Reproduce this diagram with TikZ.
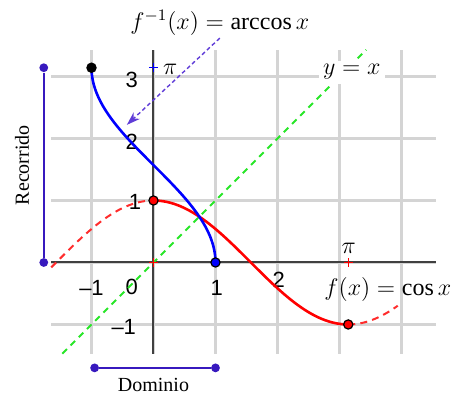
\documentclass[tikz,border=0pt]{standalone}
\usepackage{fontspec}
\setmainfont{Liberation Serif}
\setsansfont{Liberation Sans}
\usetikzlibrary{positioning,calc,arrows.meta}
\tikzset{>={Stealth[length=2.4mm,width=1.6mm]}}
\definecolor{verde}{RGB}{40,230,40}
\definecolor{lila}{RGB}{55,25,190}
\definecolor{flechalila}{RGB}{95,60,215}
\definecolor{rojoclaro}{RGB}{255,45,45}

\begin{document}
\begin{tikzpicture}[
    x=31pt, y=31pt,
    gridline/.style={draw=black!17, line width=1.2pt},
    axis/.style={draw=black!75, line width=1pt},
    tick/.style={font=\sffamily\fontsize{11}{11}\selectfont, inner sep=1pt},
    mathlbl/.style={font=\fontsize{12}{12}\selectfont, inner sep=1pt},
    word/.style={font=\fontsize{10}{10}\selectfont, inner sep=1pt},
    dot/.style={circle, draw=black, line width=0.6pt, inner sep=0pt, minimum size=4.6pt},
    limdot/.style={circle, fill=lila, inner sep=0pt, minimum size=4.4pt},
    cross/.style={line width=0.6pt}
]
\useasboundingbox (-2.476,-2.153) rectangle (4.815,4.234);

% grid and axes
\foreach \y in {-1,...,3}
    \draw[gridline] (-1.65,\y) -- (4.56,\y);
\foreach \x in {-1,...,4}
    \draw[gridline] (\x,-1.47) -- (\x,3.43);
\draw[axis] (-1.65,0) -- (4.56,0);
\draw[axis] (0,-1.47) -- (0,3.43);

% tick labels
\node[tick] (xm1) at (-1.0,-0.41) {–1};
\node[tick] (x0) at (-0.35,-0.40) {0};
\node[tick] (x1) at (1.02,-0.41) {1};
\node[tick] (x2) at (2.02,-0.28) {2};
\node[tick] (ym1) at (-0.48,-1.04) {–1};
\node[tick] (y1) at (-0.30,0.98) {1};
\node[tick] (y2) at (-0.35,1.94) {2};
\node[tick] (y3) at (-0.35,2.94) {3};

% y = x
\draw[verde, line width=1pt, dash pattern=on 3.2pt off 2.6pt] (-1.47,-1.47) -- (3.43,3.43);
\node[mathlbl, fill=white, inner sep=2pt] (idlbl) at (3.20,3.07) {$y=x$};

% f(x) = cos x
\draw[rojoclaro, line width=1pt, dash pattern=on 3.5pt off 2.6pt, domain=-1.65:0, samples=30, smooth]
    plot (\x,{cos(\x r)});
\draw[rojoclaro, line width=1pt, dash pattern=on 3.5pt off 2.6pt, domain=pi:3.94, samples=20, smooth]
    plot (\x,{cos(\x r)});
\draw[red, line width=1.3pt, domain=0:pi, samples=60, smooth]
    plot (\x,{cos(\x r)});
\draw[red, cross] (-0.07,0) -- (0.07,0) (0,-0.07) -- (0,0.07);
\draw[red, cross] (pi-0.07,0) -- (pi+0.07,0) (pi,-0.07) -- (pi,0.07);
\node[mathlbl] (pix) at (3.15,0.23) {$\pi$};
\node[mathlbl] (coslbl) at (3.78,-0.44) {$f(x)=\cos x$};

% f^{-1}(x) = arccos x
\draw[blue, line width=1.3pt, domain=0:180, samples=80, smooth, variable=\t]
    plot ({cos(\t)},{\t*pi/180});
\draw[blue, cross] (-0.07,pi) -- (0.07,pi) (0,pi-0.07) -- (0,pi+0.07);
\node[mathlbl] (piy) at (0.27,3.12) {$\pi$};

% points
\node[dot, fill=red] (cmax) at (0,1) {};
\node[dot, fill=red] (cmin) at (pi,-1) {};
\node[dot, fill=black] (atop) at (-1,pi) {};
\node[dot, fill=blue] (abot) at (1,0) {};

% label and arrow
\node[mathlbl] (arccoslbl) at (1.07,3.86) {$f^{-1}(x)=\arccos x$};
\coordinate (flecha) at (-0.43,2.22);
\draw[->, flechalila, line width=0.7pt, dash pattern=on 2pt off 1.4pt] (arccoslbl.south) -- (flecha);

% range
\node[limdot] (rtop) at (-1.77,pi) {};
\node[limdot] (rbot) at (-1.77,0) {};
\draw[lila, line width=1pt] (rtop) -- (rbot);
\node[word, rotate=90] (recorrido) at (-2.12,1.57) {Recorrido};

% domain
\node[limdot] (dleft) at (-0.95,-1.70) {};
\node[limdot] (dright) at (1,-1.70) {};
\draw[lila, line width=1pt] (dleft) -- (dright);
\node[word] (dominio) at (0,-1.98) {Dominio};
\end{tikzpicture}
\end{document}
